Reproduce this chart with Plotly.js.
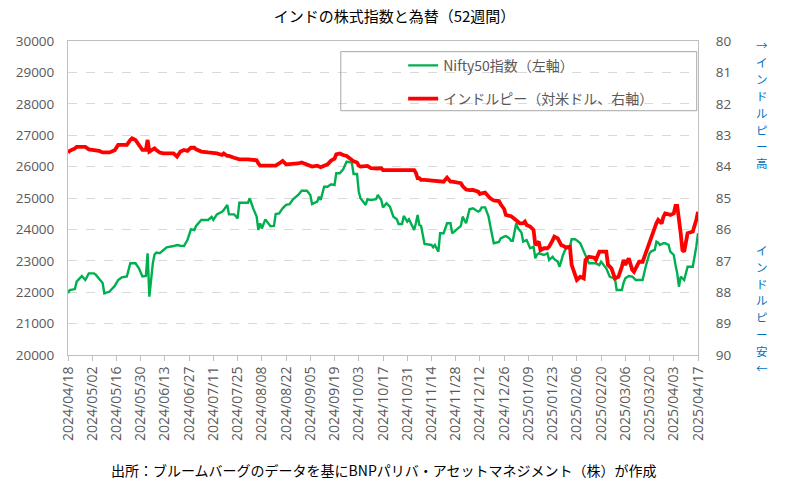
<!DOCTYPE html>
<html>
<head>
<meta charset="utf-8">
<script src="https://cdn.plot.ly/plotly-3.0.1.min.js"></script>
<style>
  html, body { margin: 0; padding: 0; background: #fff; }
  #chart { width: 789px; height: 487px; }
</style>
</head>
<body>
<div id="chart"></div>
<script>
const chartTitle = "インドの株式指数と為替（52週間）";
const sourceNote = "出所：ブルームバーグのデータを基にBNPパリバ・アセットマネジメント（株）が作成";
const niftyName = "Nifty50指数（左軸）";
const rupeeName = "インドルピー（対米ドル、右軸）";
const rupeeUpText = "→インドルピー高";
const rupeeDownText = "インドルピー安←";

const dates = [
  "2024-04-18", "2024-04-19", "2024-04-22", "2024-04-23", "2024-04-26", "2024-04-28", "2024-04-30",
  "2024-05-03", "2024-05-04", "2024-05-06", "2024-05-08", "2024-05-09", "2024-05-12", "2024-05-15",
  "2024-05-17", "2024-05-19", "2024-05-22", "2024-05-24", "2024-05-25", "2024-05-27", "2024-05-29",
  "2024-05-31", "2024-06-02", "2024-06-03", "2024-06-04", "2024-06-06", "2024-06-07", "2024-06-08",
  "2024-06-10", "2024-06-12", "2024-06-14", "2024-06-18", "2024-06-20", "2024-06-22", "2024-06-24",
  "2024-06-26", "2024-06-28", "2024-06-30", "2024-07-01", "2024-07-04", "2024-07-08", "2024-07-10",
  "2024-07-11", "2024-07-13", "2024-07-16", "2024-07-17", "2024-07-19", "2024-07-20", "2024-07-23",
  "2024-07-25", "2024-07-26", "2024-07-31", "2024-08-01", "2024-08-03", "2024-08-05", "2024-08-06",
  "2024-08-07", "2024-08-08", "2024-08-10", "2024-08-13", "2024-08-15", "2024-08-16", "2024-08-18",
  "2024-08-20", "2024-08-22", "2024-08-24", "2024-08-26", "2024-08-29", "2024-08-31", "2024-09-03",
  "2024-09-05", "2024-09-06", "2024-09-09", "2024-09-10", "2024-09-11", "2024-09-13", "2024-09-15",
  "2024-09-17", "2024-09-19", "2024-09-20", "2024-09-22", "2024-09-24", "2024-09-26", "2024-09-29",
  "2024-09-30", "2024-10-02", "2024-10-03", "2024-10-04", "2024-10-07", "2024-10-08", "2024-10-10",
  "2024-10-13", "2024-10-14", "2024-10-16", "2024-10-17", "2024-10-19", "2024-10-21", "2024-10-23",
  "2024-10-25", "2024-10-26", "2024-10-28", "2024-10-29", "2024-10-31", "2024-11-01", "2024-11-03",
  "2024-11-04", "2024-11-05", "2024-11-06", "2024-11-07", "2024-11-08", "2024-11-10", "2024-11-14",
  "2024-11-15", "2024-11-16", "2024-11-18", "2024-11-19", "2024-11-21", "2024-11-23", "2024-11-25",
  "2024-11-26", "2024-12-01", "2024-12-02", "2024-12-04", "2024-12-06", "2024-12-08", "2024-12-11",
  "2024-12-12", "2024-12-13", "2024-12-15", "2024-12-17", "2024-12-18", "2024-12-20", "2024-12-23",
  "2024-12-24", "2024-12-26", "2024-12-27", "2024-12-29", "2024-12-30", "2024-12-31", "2025-01-02",
  "2025-01-03", "2025-01-04", "2025-01-05", "2025-01-06", "2025-01-07", "2025-01-08", "2025-01-10",
  "2025-01-12", "2025-01-13", "2025-01-14", "2025-01-15", "2025-01-16", "2025-01-18", "2025-01-20",
  "2025-01-21", "2025-01-23", "2025-01-24", "2025-01-26", "2025-01-27", "2025-01-28", "2025-01-29",
  "2025-01-31", "2025-02-02", "2025-02-03", "2025-02-05", "2025-02-06", "2025-02-08", "2025-02-10",
  "2025-02-11", "2025-02-13", "2025-02-16", "2025-02-17", "2025-02-19", "2025-02-20", "2025-02-23",
  "2025-02-24", "2025-02-25", "2025-02-26", "2025-02-28", "2025-03-01", "2025-03-02", "2025-03-04",
  "2025-03-05", "2025-03-06", "2025-03-08", "2025-03-10", "2025-03-11", "2025-03-12", "2025-03-14",
  "2025-03-16", "2025-03-18", "2025-03-20", "2025-03-21", "2025-03-23", "2025-03-24", "2025-03-25",
  "2025-03-26", "2025-03-27", "2025-03-28", "2025-03-29", "2025-03-31", "2025-04-01", "2025-04-03",
  "2025-04-04", "2025-04-05", "2025-04-06", "2025-04-07", "2025-04-08", "2025-04-09", "2025-04-11",
  "2025-04-14", "2025-04-16", "2025-04-17"
];

// Nifty50 (left axis)
const nifty = [
  21965, 22070, 22100, 22335, 22516, 22390, 22600,
  22600, 22560, 22420, 22290, 21965, 22020, 22200,
  22390, 22470, 22500, 22920, 22920, 22920, 22760,
  22500, 22520, 23240, 21860, 22920, 23200, 23260,
  23240, 23340, 23430, 23470, 23500, 23480, 23470,
  23660, 24000, 23980, 24110, 24300, 24300, 24400,
  24300, 24480, 24560, 24620, 24780, 24480, 24480,
  24350, 24850, 24850, 24990, 24670, 24410, 23980,
  24190, 24030, 24320, 24100, 24110, 24490, 24510,
  24670, 24780, 24800, 24960, 25095, 25230, 25230,
  25095, 24810, 24885, 25040, 24935, 25360, 25360,
  25435, 25410, 25790, 25790, 25915, 26160, 26125,
  25765, 25765, 25200, 24990, 24780, 24960, 24935,
  24960, 25100, 24935, 24700, 24830, 24725, 24405,
  24320, 24170, 24170, 24430, 24250, 24320, 24100,
  23980, 24195, 24460, 24140, 24110, 23535, 23505,
  23430, 23505, 23290, 23875, 23875, 24195, 24195,
  23875, 24110, 24405, 24195, 24640, 24670, 24565,
  24600, 24700, 24700, 24405, 24110, 23560, 23600,
  23715, 23770, 23790, 23715, 23640, 23640, 24195,
  24035, 23980, 23900, 23610, 23640, 23660, 23400,
  23450, 23080, 23200, 23240, 23220, 23185, 23240,
  23025, 23130, 23050, 22970, 22810, 23000, 23185,
  23450, 23450, 23685, 23685, 23650, 23560, 23300,
  23185, 22920, 22920, 22920, 22865, 22970, 22760,
  22600, 22495, 22470, 22440, 22070, 22070, 22070,
  22300, 22440, 22515, 22495, 22450, 22390, 22390,
  22390, 22865, 23240, 23300, 23345, 23610, 23580,
  23505, 23540, 23560, 23560, 23505, 23290, 23185,
  22865, 22600, 22175, 22495, 22440, 22390, 22810,
  22810, 23450, 23875
];

// INR per USD (right axis, reversed)
const rupee = [
  83.55, 83.50, 83.42, 83.37, 83.37, 83.37, 83.45,
  83.47, 83.47, 83.50, 83.55, 83.55, 83.55, 83.48,
  83.31, 83.31, 83.31, 83.15, 83.10, 83.15, 83.31,
  83.47, 83.47, 83.15, 83.52, 83.45, 83.42, 83.47,
  83.55, 83.58, 83.58, 83.58, 83.68, 83.52, 83.47,
  83.50, 83.40, 83.40, 83.45, 83.52, 83.55, 83.55,
  83.57, 83.58, 83.63, 83.58, 83.66, 83.66, 83.72,
  83.76, 83.77, 83.77, 83.77, 83.77, 83.80, 83.90,
  83.97, 83.97, 83.97, 83.97, 83.97, 83.97, 83.90,
  83.82, 83.93, 83.93, 83.93, 83.90, 83.87, 83.93,
  84.00, 84.00, 83.97, 83.98, 84.02, 83.97, 83.93,
  83.81, 83.75, 83.61, 83.58, 83.63, 83.66, 83.79,
  83.83, 83.87, 83.97, 84.00, 83.98, 83.98, 84.05,
  84.08, 84.06, 84.05, 84.11, 84.11, 84.11, 84.11,
  84.11, 84.11, 84.11, 84.11, 84.11, 84.11, 84.11,
  84.11, 84.20, 84.37, 84.37, 84.42, 84.42, 84.44,
  84.44, 84.45, 84.46, 84.47, 84.48, 84.35, 84.48,
  84.48, 84.53, 84.62, 84.73, 84.75, 84.74, 84.80,
  84.87, 84.85, 84.83, 84.95, 85.01, 85.08, 85.10,
  85.20, 85.35, 85.54, 85.56, 85.58, 85.62, 85.72,
  85.79, 85.80, 85.81, 85.80, 85.75, 85.86, 85.91,
  86.02, 86.50, 86.45, 86.39, 86.66, 86.60, 86.60,
  86.55, 86.35, 86.23, 86.29, 86.40, 86.50, 86.52,
  86.58, 86.55, 87.13, 87.45, 87.61, 87.51, 87.56,
  86.97, 86.87, 86.90, 86.97, 86.71, 86.71, 86.71,
  87.13, 87.20, 87.24, 87.56, 87.53, 87.51, 87.19,
  86.97, 87.13, 86.92, 87.29, 87.35, 87.24, 87.03,
  87.03, 86.70, 86.39, 86.23, 85.97, 85.80, 85.70,
  85.75, 85.81, 85.60, 85.49, 85.52, 85.54, 85.49,
  85.25, 85.25, 85.60, 86.12, 86.66, 86.71, 86.12,
  86.07, 85.70, 85.44
];

const FONT = '"Noto Sans CJK JP", "Noto Sans", sans-serif';
const NUM_FONT = '"Open Sans", "Noto Sans", sans-serif';
const TEXT_GREY = "#595959";
const AXIS_GREY = "#BFBFBF";
const PLOT_TOP = 41;
const PLOT_HEIGHT = 314;

// vertical text: one annotation per character, stepping down from a pixel row
function verticalText(s, topPx, stepPx) {
  return Array.from(s).map((ch, i) => ({
    text: ch,
    xref: "paper",
    yref: "paper",
    x: 1.102,
    y: 1 - (topPx + i * stepPx - PLOT_TOP) / PLOT_HEIGHT,
    xanchor: "center",
    yanchor: "middle",
    showarrow: false,
    font: { family: FONT, size: 11.5, color: "#0070C0" },
  }));
}

const traces = [
  {
    x: dates,
    y: nifty,
    name: niftyName,
    type: "scatter",
    mode: "lines",
    legendgroup: "a",
    line: { color: "#00B050", width: 2.4 },
    yaxis: "y",
  },
  {
    x: dates,
    y: rupee,
    name: rupeeName,
    type: "scatter",
    mode: "lines",
    legendgroup: "b",
    line: { color: "#FF0000", width: 3.8 },
    yaxis: "y2",
  },
];

const layout = {
  width: 789,
  height: 487,
  margin: { l: 68, r: 91, t: PLOT_TOP, b: 132 },
  paper_bgcolor: "#fff",
  plot_bgcolor: "#fff",
  font: { family: FONT, size: 13, color: TEXT_GREY },
  title: {
    text: chartTitle,
    font: { family: FONT, size: 15, color: "#000" },
    x: 0.5,
    xanchor: "center",
    y: 0.965,
    yanchor: "middle",
  },
  showlegend: true,
  legend: {
    x: 0.532,
    y: 0.972,
    xanchor: "left",
    yanchor: "top",
    bgcolor: "rgba(0,0,0,0)",
    borderwidth: 0,
    traceorder: "grouped",
    tracegroupgap: 12,
    font: { family: FONT, size: 14, color: TEXT_GREY },
  },
  xaxis: {
    type: "date",
    range: ["2024-04-18", "2025-04-17"],
    tick0: "2024-04-18",
    dtick: 14 * 86400000,
    tickformat: "%Y/%m/%d",
    tickangle: -90,
    ticks: "outside",
    ticklen: 5,
    tickcolor: AXIS_GREY,
    showgrid: false,
    showline: true,
    linecolor: AXIS_GREY,
    linewidth: 1,
    mirror: true,
    zeroline: false,
    tickfont: { family: NUM_FONT, size: 14, color: TEXT_GREY },
  },
  yaxis: {
    range: [20000, 30000],
    dtick: 1000,
    tickformat: "d",
    showgrid: true,
    gridcolor: "#D9D9D9",
    griddash: "dash",
    gridwidth: 1,
    showline: true,
    linecolor: AXIS_GREY,
    linewidth: 1,
    ticks: "",
    ticklabelstandoff: 10,
    zeroline: false,
    tickfont: { family: NUM_FONT, size: 13.5, color: TEXT_GREY },
  },
  yaxis2: {
    overlaying: "y",
    side: "right",
    range: [90, 80],
    dtick: 1,
    showgrid: false,
    showline: true,
    linecolor: AXIS_GREY,
    linewidth: 1,
    ticks: "",
    ticklabelstandoff: 14,
    zeroline: false,
    tickfont: { family: NUM_FONT, size: 13.5, color: TEXT_GREY },
  },
  shapes: [
    // legend frame
    {
      type: "rect",
      xref: "paper",
      yref: "paper",
      x0: 0.433,
      x1: 0.998,
      y0: 0.778,
      y1: 0.966,
      line: { color: "#A6A6A6", width: 1 },
      fillcolor: "rgba(255,255,255,0)",
      layer: "above",
    },
  ],
  annotations: [
    ...verticalText(rupeeUpText, 45, 16.9),
    ...verticalText(rupeeDownText, 250, 16.8),
    {
      text: sourceNote,
      xref: "paper",
      yref: "paper",
      x: 0.5,
      y: -0.365,
      xanchor: "center",
      yanchor: "middle",
      showarrow: false,
      font: { family: FONT, size: 14, color: "#000" },
    },
  ],
};

Plotly.newPlot("chart", traces, layout, { displayModeBar: false, staticPlot: true });
</script>
</body>
</html>
